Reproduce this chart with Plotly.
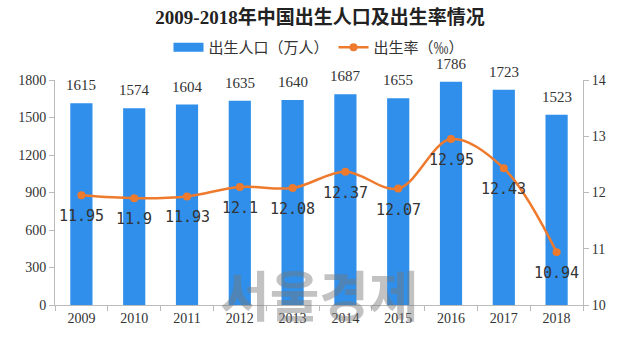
import plotly.graph_objects as go

years = ["2009", "2010", "2011", "2012", "2013", "2014", "2015", "2016", "2017", "2018"]
births = [1615, 1574, 1604, 1635, 1640, 1687, 1655, 1786, 1723, 1523]
rates = [11.95, 11.9, 11.93, 12.1, 12.08, 12.37, 12.07, 12.95, 12.43, 10.94]
rate_labels = ["11.95", "11.9", "11.93", "12.1", "12.08", "12.37", "12.07", "12.95", "12.43", "10.94"]

serif = "Liberation Serif, DejaVu Serif, serif"
cjk = "Liberation Serif, Noto Sans CJK SC"
mono = "DejaVu Sans Mono, monospace"
blue = "#2F8FEA"
orange = "#EE7A2E"

fig = go.Figure()
fig.add_trace(go.Bar(
    x=years, y=births, name="出生人口（万人）", showlegend=False,
    marker=dict(color=blue, line=dict(width=0)),
))
# legend entry with a wide rectangle swatch
fig.add_trace(go.Scatter(
    x=[None], y=[None], name="出生人口（万人）", mode="lines",
    line=dict(color=blue, width=9),
))
fig.add_trace(go.Scatter(
    x=years, y=rates, name="出生率（‰）", yaxis="y2",
    mode="lines+markers",
    line=dict(color=orange, width=2.5, shape="spline"),
    marker=dict(color=orange, size=8),
    cliponaxis=False,
))

annotations = []
for i, b in enumerate(births):
    annotations.append(dict(x=i, y=b, xref="x", yref="y", text=str(b), showarrow=False,
                            yanchor="bottom", yshift=8,
                            font=dict(family=serif, size=15, color="#333333")))
for i, (r, lab) in enumerate(zip(rates, rate_labels)):
    annotations.append(dict(x=i, y=r, xref="x", yref="y2", text=lab, showarrow=False,
                            yanchor="middle", yshift=-21,
                            font=dict(family=mono, size=15, color="#333333")))
annotations.append(dict(text="<b>서울경제</b>", xref="paper", yref="paper", x=0.5, y=-0.135,
                        xanchor="center", yanchor="bottom", showarrow=False,
                        font=dict(family="Noto Sans CJK KR", size=54, color="rgba(120,120,120,0.45)")))

fig.update_layout(
    width=640, height=342,
    margin=dict(l=55, r=57, t=80, b=37),
    paper_bgcolor="white", plot_bgcolor="white",
    bargap=0.58,
    title=dict(text="<b>2009-2018年中国出生人口及出生率情况</b>", x=0.5, xanchor="center",
               y=0.95, yanchor="middle",
               font=dict(family=cjk, size=19, color="#222222")),
    legend=dict(orientation="h", x=0.5, xanchor="center", y=1.145, yanchor="middle",
                font=dict(family="Noto Sans CJK SC", size=15, color="#333333"),
                bgcolor="rgba(0,0,0,0)"),
    xaxis=dict(type="category", categoryorder="array", categoryarray=years,
               range=[-0.5, len(years) - 0.5], showline=True, linecolor="#BBBBBB",
               ticks="outside", tickson="boundaries", tickcolor="#BBBBBB", ticklen=5,
               tickangle=0, tickfont=dict(family=serif, size=14, color="#333333")),
    yaxis=dict(range=[0, 1800], dtick=300, showgrid=False, showline=True, linecolor="#BBBBBB",
               ticks="outside", tickcolor="#BBBBBB", ticklen=5, zeroline=False,
               tickfont=dict(family=serif, size=14, color="#333333")),
    yaxis2=dict(range=[10, 14], dtick=1, overlaying="y", side="right", showgrid=False,
                showline=True, linecolor="#BBBBBB", ticks="outside", tickcolor="#BBBBBB",
                ticklen=5, zeroline=False,
                tickfont=dict(family=serif, size=14, color="#333333")),
    annotations=annotations,
)

fig.write_html("out.html")
